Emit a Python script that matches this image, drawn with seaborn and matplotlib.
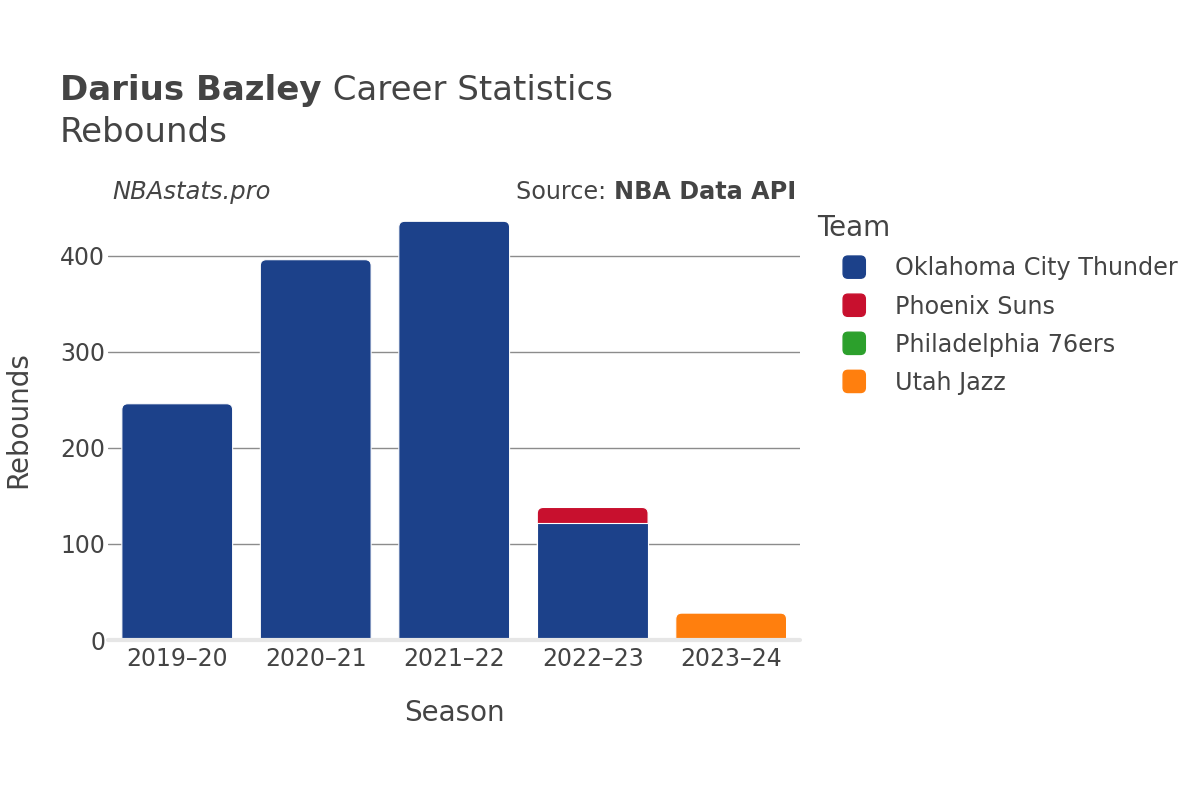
import numpy as np
import pandas as pd
import matplotlib
matplotlib.use("Agg")
import matplotlib.pyplot as plt
import seaborn as sns
from matplotlib.patches import FancyBboxPatch, Patch
from matplotlib.legend_handler import HandlerPatch

seasons = ['2019–20', '2020–21', '2021–22', '2022–23', '2023–24']
teams = ['Oklahoma City Thunder', 'Phoenix Suns', 'Philadelphia 76ers', 'Utah Jazz']
okc = [246, 396, 436, 122, 0]
phx = [0, 0, 0, 16, 0]
phi = [0, 0, 0, 0, 0]
uta = [0, 0, 0, 0, 28]
colors = ['#1c418a', '#c8102e', '#2ca02c', '#ff7f0e']

layers = [okc, phx, phi, uta]
df = pd.DataFrame({t: v for t, v in zip(teams, layers)}, index=seasons)
cum = df.cumsum(axis=1)
totals = df.sum(axis=1)

sns.set_theme(style="white")
plt.rcParams['font.family'] = ['DejaVu Sans']
txt = '#444444'

fig = plt.figure(figsize=(12, 8), dpi=100)
ax = fig.add_axes([0.09, 0.2, 0.577, 0.551])

ymax = 459
# px per unit, for rounding the top corners
px_x = 0.577 * 1200 / 5
px_y = 0.551 * 800 / ymax

# draw cumulative layers from top to bottom so lower ones sit in front
for i in reversed(range(len(teams))):
    before = len(ax.patches)
    sns.barplot(x=seasons, y=cum[teams[i]].values, color=colors[i], width=0.8,
                ax=ax, saturation=1)
    new = ax.patches[before:]
    for j, p in enumerate(new):
        x0, w, h = p.get_x(), p.get_width(), p.get_height()
        p.remove()
        if df[teams[i]].iloc[j] <= 0:
            continue
        top = abs(h - totals.iloc[j]) < 1e-9
        if top:
            r = 6 / px_x
            style = f"round,pad=0,rounding_size={r}"
        else:
            style = "square,pad=0"
        bb = FancyBboxPatch((x0, -20), w, h + 20, boxstyle=style,
                            mutation_aspect=px_x / px_y,
                            facecolor=colors[i], edgecolor='white',
                            linewidth=0.8, zorder=3)
        ax.add_patch(bb)

ax.set_xlim(-0.5, 4.5)
ax.set_ylim(0, ymax)
ax.set_yticks([0, 100, 200, 300, 400])
for y in [100, 200, 300, 400]:
    ax.axhline(y, color='#8c8c8c', lw=1, zorder=1)
ax.axhline(0, color='#e6e6e6', lw=3, zorder=4, clip_on=False)
for s in ax.spines.values():
    s.set_visible(False)
ax.tick_params(axis='both', length=0, labelsize=17, colors=txt)
ax.tick_params(axis='x', pad=5)
ax.tick_params(axis='y', pad=2)
ax.set_xlabel('Season', fontsize=20, color=txt, labelpad=20)
ax.set_ylabel('Rebounds', fontsize=20, color=txt, labelpad=20)

fig.canvas.draw()
r = fig.canvas.get_renderer()
inv = fig.transFigure.inverted()

t1 = fig.text(0.05, 0.887, 'Darius Bazley', fontsize=24.5, fontweight='bold', color=txt, va='center')
x1 = inv.transform(t1.get_window_extent(r))[1][0]
fig.text(x1, 0.887, ' Career Statistics', fontsize=24.5, color=txt, va='center')
fig.text(0.05, 0.834, 'Rebounds', fontsize=24.5, color=txt, va='center')
fig.text(0.094, 0.76, 'NBAstats.pro', fontsize=17.5, style='italic', color=txt, va='center')
t2 = fig.text(796 / 1200, 0.76, 'NBA Data API', fontsize=17.2, fontweight='bold',
              color=txt, va='center', ha='right')
x2 = inv.transform(t2.get_window_extent(r))[0][0]
fig.text(x2, 0.76, 'Source: ', fontsize=17.2, color=txt, va='center', ha='right')


def rounded_square(legend, orig_handle, xdescent, ydescent, width, height, fontsize):
    s = 16
    return FancyBboxPatch((width - xdescent - s, -ydescent + (height - s) / 2), s, s,
                          boxstyle="round,pad=0,rounding_size=3.5")


handles = [Patch(facecolor=c, edgecolor=c) for c in colors]
leg = fig.legend(handles, teams, loc='upper left', bbox_to_anchor=(0.6813, 0.732),
                 frameon=False, title='Team', fontsize=17.2, title_fontsize=20,
                 labelspacing=0.59, handlelength=2.0, handletextpad=1.25,
                 borderaxespad=0, borderpad=0, alignment='left', labelcolor=txt,
                 handler_map={Patch: HandlerPatch(patch_func=rounded_square)})
leg.get_title().set_color(txt)

fig.savefig('out.png', dpi=100)
